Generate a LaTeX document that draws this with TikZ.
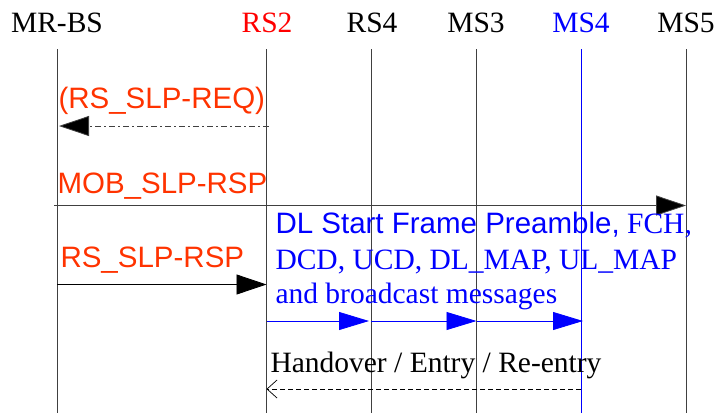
\documentclass[tikz,border=0pt]{standalone}
\usepackage{fontspec}
\setmainfont{Liberation Serif}
\newfontfamily\arialfont{Liberation Sans}
\usetikzlibrary{arrows.meta}
\definecolor{msgred}{HTML}{FF3300}
\definecolor{linegray}{HTML}{404040}
\begin{document}
\begin{tikzpicture}[x=1pt,y=-1pt,
  every node/.style={inner sep=0pt,outer sep=0pt,font=\fontsize{29.5}{35}\selectfont},
  head/.style={anchor=base},
  lifeline/.style={draw=linegray,line width=0.9pt},
  msglabel/.style={anchor=base west,text=msgred,font=\fontsize{29.5}{35}\selectfont\arialfont},
  msg/.style={draw=black,line width=0.8pt,-{Triangle[length=30pt,width=20pt,fill=black]}},
  bluemsg/.style={draw=blue,line width=0.8pt,-{Triangle[length=30pt,width=18pt]}},
  reqmsg/.style={draw=linegray,line width=0.8pt,dash pattern=on 6pt off 3pt on 2pt off 3pt,
    -{Triangle[length=30pt,width=20pt,fill=black]}},
  retmsg/.style={draw=black,line width=0.7pt,dash pattern=on 5pt off 3pt,
    -{Straight Barb[length=10pt,width=18pt]}}]
\useasboundingbox (0,0) rectangle (715,413);

% entity headings
\node[head] (mrbs) at (57,32) {MR-BS};
\node[head,text=red] (rs2) at (267,32) {RS2};
\node[head] (rs4) at (372,32) {RS4};
\node[head] (ms3) at (476,32) {MS3};
\node[head,text=blue] (ms4) at (581,32) {MS4};
\node[head] (ms5) at (686,32) {MS5};

% lifeline end points
\foreach \n/\x in {mrbs/57,rs2/266.5,rs4/371,ms3/476.5,ms4/581,ms5/686}{
  \coordinate (\n-top) at (\x,49);
  \coordinate (\n-bot) at (\x,413);
}
\draw[lifeline] (mrbs-top) -- (mrbs-bot);
\draw[lifeline] (rs2-top) -- (rs2-bot);
\draw[lifeline] (rs4-top) -- (rs4-bot);
\draw[lifeline] (ms3-top) -- (ms3-bot);
\draw[draw=blue,line width=0.9pt] (ms4-top) -- (ms4-bot);
\draw[lifeline] (ms5-top) -- (ms5-bot);

% RS_SLP-REQ (optional)
\node[msglabel] (reqlbl) at (58.5,108) {(RS\_SLP-REQ)};
\draw[reqmsg] ([xshift=2pt]rs2-top |- 0,126) -- ([xshift=2pt]mrbs-top |- 0,126);

% MOB_SLP-RSP
\node[msglabel] (moblbl) at (57.5,193) {MOB\_SLP-RSP};
\coordinate (mobstart) at (54,205.5);
\draw[msg,draw=linegray] (mobstart) -- (ms5-top |- mobstart);

% RS_SLP-RSP
\node[msglabel] (rsplbl) at (60.5,267) {RS\_SLP-RSP};
\draw[msg] (mrbs-top |- 0,284.5) -- (rs2-top |- 0,284.5);

% broadcast from RS2 down the relay chain
\node[anchor=base west,text=blue,align=left] (bclbl) at (275.5,233)
  {{\arialfont DL Start Frame Preamble,} FCH,};
\node[anchor=base west,text=blue] (bclbl2) at (275.5,269) {DCD, UCD, DL\_MAP, UL\_MAP};
\node[anchor=base west,text=blue] (bclbl3) at (275.5,303) {and broadcast messages};
\draw[bluemsg] (rs2-top |- 0,321) -- ([xshift=-2pt]rs4-top |- 0,321);
\draw[bluemsg] (rs4-top |- 0,321) -- (ms3-top |- 0,321);
\draw[bluemsg] (ms3-top |- 0,321) -- ([xshift=2pt]ms4-top |- 0,321);

% handover / entry / re-entry
\node[anchor=base west] (holbl) at (270.5,372) {Handover / Entry / Re-entry};
\draw[retmsg] (ms4-top |- 0,389) -- (rs2-top |- 0,389);
\end{tikzpicture}
\end{document}
